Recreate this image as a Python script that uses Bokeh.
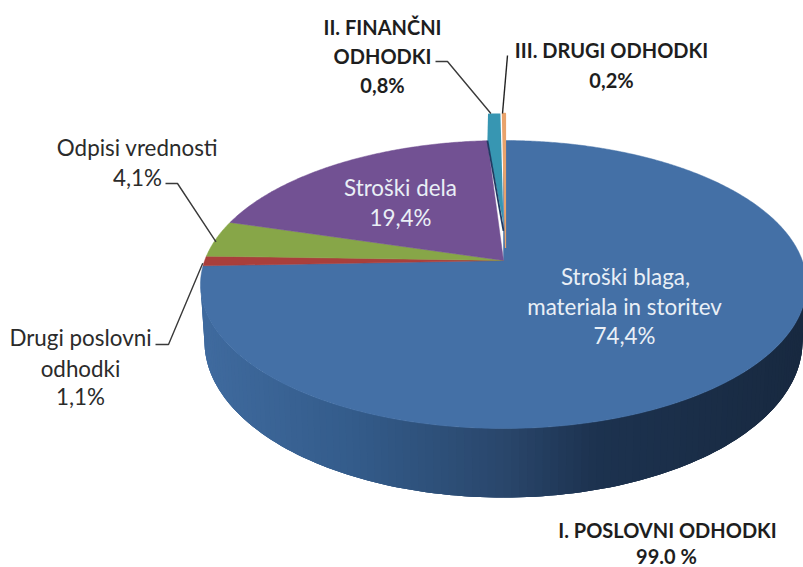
import numpy as np
from bokeh.plotting import figure
from bokeh.embed import file_html
from bokeh.resources import INLINE
from bokeh.core.properties import value

# ---- data ----
slice_names = ["Stroški blaga, materiala in storitev", "Drugi poslovni odhodki", "Odpisi vrednosti",
               "Stroški dela", "II. FINANČNI ODHODKI", "III. DRUGI ODHODKI"]
slice_values = [74.4, 1.1, 4.1, 19.4, 0.8, 0.2]
slice_colors = ["#4470A6", "#A93F3C", "#87A648", "#725193", "#3796B2", "#E9A36C"]

# ---- geometry of the 3D view, in screen pixels ----
APEX_X, APEX_Y = 503.0, 260.0
R_X, R_Y, PERSP = 298.8, 140.0, 1 / 6
RIM_CY, RIM_RX, RIM_RY = 284.0, 303.0, 144.0
BASE_CY, BASE_RX, BASE_RY = 341.0, 299.0, 156.0
EXPLODE = 0.273
FONT = "Lato"

def project(theta_deg, r=1.0, explode=0.0):
    t = np.radians(theta_deg)
    u = r * np.sin(t)
    v = -r * np.cos(t) - explode
    w = 1 + PERSP * (-v)
    return APEX_X + R_X * u / w, APEX_Y + R_Y * v / w

def wedge(a0, a1, explode=0.0):
    th = np.arange(a0, a1 + 0.5, 0.5)
    th[-1] = a1
    xs, ys = project(th, 1.0, explode)
    ax, ay = project(0.0, 0.0, explode)
    return [ax] + list(xs), [ay] + list(ys)

edges = np.concatenate([[0.0], np.cumsum(slice_values)]) / sum(slice_values) * 360.0

p = figure(width=803, height=567, x_range=(0, 803), y_range=(567, 0),
           output_backend="svg", toolbar_location=None, min_border=0,
           outline_line_color=None, background_fill_color="white", border_fill_color="white")
p.xaxis.visible = False
p.yaxis.visible = False
p.grid.visible = False

# ---- side wall with horizontal shading (painted left to right, each strip overlapping the next) ----
shade_pos = [0.0, 0.25, 0.5, 0.65, 1.0]
shade_rgb = [(0x40, 0x6B, 0x9F), (0x34, 0x5C, 0x8B), (0x2A, 0x47, 0x6C), (0x1D, 0x33, 0x50), (0x18, 0x29, 0x40)]
ts = np.radians(np.arange(180, -0.01, -1.5))
for i in range(len(ts) - 1):
    arc = ts[i:min(i + 4, len(ts))]
    f = (np.cos(0.5 * (ts[i] + ts[i + 1])) + 1) / 2
    rgb = [int(np.interp(f, shade_pos, [c[k] for c in shade_rgb])) for k in range(3)]
    col = "#%02x%02x%02x" % tuple(rgb)
    qx = list(APEX_X + RIM_RX * np.cos(arc)) + list(APEX_X + BASE_RX * np.cos(arc[::-1]))
    qy = list(RIM_CY + RIM_RY * np.sin(arc)) + list(BASE_CY + BASE_RY * np.sin(arc[::-1]))
    p.patch(qx, qy, fill_color=col, line_color=None)

# ---- top face ----
for i in range(4):
    xs, ys = wedge(edges[i], edges[i + 1])
    p.patch(xs, ys, fill_color=slice_colors[i], line_color=slice_colors[i], line_width=0.5)

# ---- exploded slices ----
xs, ys = wedge(edges[4], edges[5], EXPLODE)
wx, wy = project(edges[4])
p.patch([wx] + xs[1:] + [xs[0]], [wy] + ys[1:] + [ys[0]], fill_color=slice_colors[4], line_color=None)
p.line([wx, xs[0]], [wy, ys[0] + 7], line_color="#1F3B63", line_width=1.8)

xs, ys = wedge(edges[5], edges[6], EXPLODE)
xs = [x + 2.0 for x in xs]
ys[0] += 24
p.patch(xs, ys, fill_color=slice_colors[5], line_color=slice_colors[5], line_width=1.2)

# ---- leader lines ----
leader_col = "#3A3A3A"
rx, ry = project(edges[4] + 1.6, 1.0, EXPLODE)
p.line([435, 447, rx - 4], [61, 61, ry], line_color=leader_col, line_width=1.4)
rx, ry = project(edges[6], 1.0, EXPLODE)
p.line([507, rx - 1], [55, ry], line_color="#222222", line_width=1.4)
rx, ry = project(edges[2] + 6.0)
p.line([165, 177, rx + 2], [183, 183, ry], line_color=leader_col, line_width=1.4)
rx, ry = project(edges[1] + 1.0)
p.line([155, 168, rx - 1], [344, 344, ry], line_color=leader_col, line_width=1.4)

# ---- labels ----
def label(x, y, txt, color="#2B2B2B", size="22.4px", style="normal"):
    p.text([x], [y], text=[txt], text_align="center", text_baseline="middle",
           text_color=color, text_font=value(FONT), text_font_size=size, text_font_style=style)

BOLD = dict(color="#1E1E1E", size="20px", style="bold")
label(382, 26, "II. FINANČNI", **BOLD)
label(382, 55, "ODHODKI", **BOLD)
label(382, 84, "0,8%", **BOLD)
label(611, 49, "III. DRUGI ODHODKI", **BOLD)
label(611, 79, "0,2%", **BOLD)
label(667, 529, "I. POSLOVNI ODHODKI", **BOLD)
label(666, 555, "99.0 %", **BOLD)
label(137, 147, "Odpisi vrednosti")
label(137, 177, "4,1%")
label(80, 337, "Drugi poslovni")
label(80, 368, "odhodki")
label(80, 396, "1,1%")
WHITE = dict(color="#E9EFF6")
label(400, 187, "Stroški dela", **WHITE)
label(400, 217, "19,4%", **WHITE)
label(625, 276, "Stroški blaga,", **WHITE)
label(624, 306, "materiala in storitev", **WHITE)
label(624, 335, "74,4%", **WHITE)

open("out.html", "w").write(file_html(p, INLINE))
